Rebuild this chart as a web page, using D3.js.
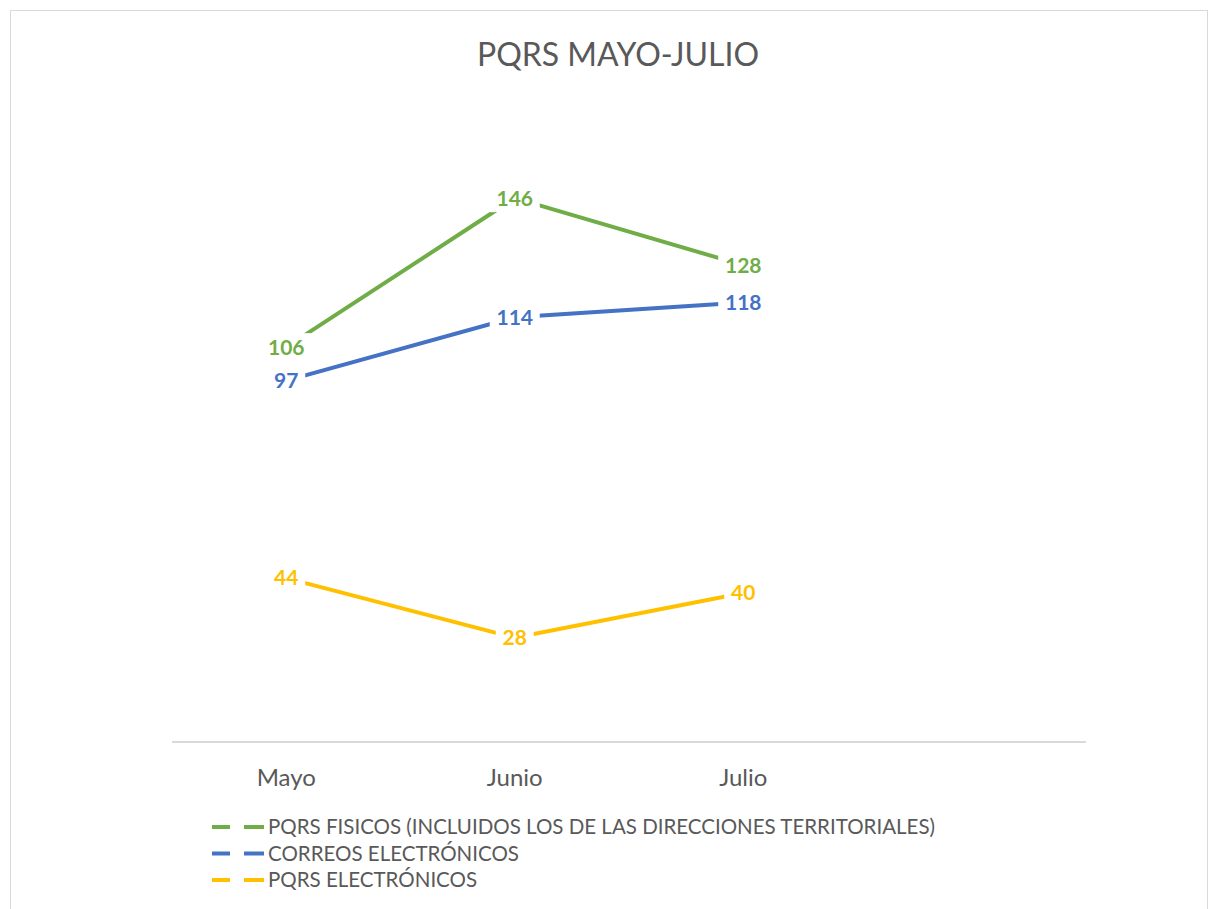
<!DOCTYPE html>
<head>
  <meta charset="utf-8">
  <script src="https://d3js.org/d3.v7.min.js"></script>
  <style>
    body { margin:0; background:#fff; }
    text { font-family: Lato, "Open Sans", sans-serif; }
  </style>
</head>
<body>
  <script>
    var width = 1218,
        height = 909;

    // data
    var months = ["Mayo", "Junio", "Julio", ""];
    var fisicos = [106, 146, 128];
    var correos = [97, 114, 118];
    var electronicos = [44, 28, 40];
    var seriesNames = [
      "PQRS FISICOS (INCLUIDOS LOS DE LAS DIRECCIONES TERRITORIALES)",
      "CORREOS ELECTRÓNICOS",
      "PQRS ELECTRÓNICOS"
    ];
    var colors = ["#70AD47", "#4472C4", "#FFC000"];

    var series = [fisicos, correos, electronicos].map(function(v, i) {
      return { name: seriesNames[i], values: v, color: colors[i] };
    });

    var svg = d3.select("body").append("svg")
      .attr("width", width)
      .attr("height", height);

    // chart border
    svg.append("rect")
      .attr("x", 10.5).attr("y", 10.5)
      .attr("width", 1197).attr("height", 920)
      .attr("fill", "none")
      .attr("stroke", "#d9d9d9");

    svg.append("text")
      .attr("x", 618).attr("y", 66)
      .attr("text-anchor", "middle")
      .attr("font-size", 32)
      .attr("fill", "#595959")
      .text("PQRS MAYO-JULIO");

    var x = d3.scaleBand().domain(months).range([172, 1086]);
    var y = d3.scaleLinear().domain([0, 160]).range([742, 146]);

    // category axis
    svg.append("line")
      .attr("x1", 172).attr("x2", 1086)
      .attr("y1", 742).attr("y2", 742)
      .attr("stroke", "#d9d9d9").attr("stroke-width", 2);

    svg.selectAll(".month")
      .data(months.filter(function(m) { return m; }))
      .enter().append("text")
      .attr("class", "month")
      .attr("x", function(d) { return x(d) + x.bandwidth() / 2; })
      .attr("y", 786)
      .attr("text-anchor", "middle")
      .attr("font-size", 24)
      .attr("fill", "#595959")
      .text(function(d) { return d; });

    var line = d3.line()
      .x(function(d, i) { return x(months[i]) + x.bandwidth() / 2; })
      .y(function(d) { return y(d); });

    var g = svg.selectAll(".serie")
      .data(series)
      .enter().append("g")
      .attr("class", "serie");

    g.append("path")
      .attr("d", function(d) { return line(d.values); })
      .attr("fill", "none")
      .attr("stroke", function(d) { return d.color; })
      .attr("stroke-width", 4)
      .attr("stroke-linecap", "round");

    // data labels centred on points, white box hides the line
    var lab = g.selectAll(".lab")
      .data(function(d) {
        return d.values.map(function(v, i) { return { v: v, i: i, color: d.color }; });
      })
      .enter().append("g")
      .attr("class", "lab")
      .attr("transform", function(d) {
        return "translate(" + (x(months[d.i]) + x.bandwidth() / 2) + "," + y(d.v) + ")";
      });

    lab.append("rect")
      .attr("x", function(d) { return d.v >= 100 ? -25 : -19; })
      .attr("width", function(d) { return d.v >= 100 ? 50 : 38; })
      .attr("y", -14).attr("height", 28)
      .attr("fill", "#fff");

    lab.append("text")
      .attr("text-anchor", "middle")
      .attr("dy", "0.35em")
      .attr("font-size", 21)
      .attr("font-weight", "bold")
      .attr("fill", function(d) { return d.color; })
      .text(function(d) { return d.v; });

    // legend
    var leg = svg.selectAll(".leg")
      .data(series)
      .enter().append("g")
      .attr("class", "leg")
      .attr("transform", function(d, i) { return "translate(212," + (827 + i * 26.5) + ")"; });

    leg.append("line")
      .attr("x1", 0).attr("x2", 52)
      .attr("stroke", function(d) { return d.color; })
      .attr("stroke-width", 4)
      .attr("stroke-dasharray", "18,14,20");

    leg.append("text")
      .attr("x", 56)
      .attr("dy", "0.35em")
      .attr("font-size", 20.5)
      .attr("fill", "#595959")
      .text(function(d) { return d.name; });
  </script>
</body>
